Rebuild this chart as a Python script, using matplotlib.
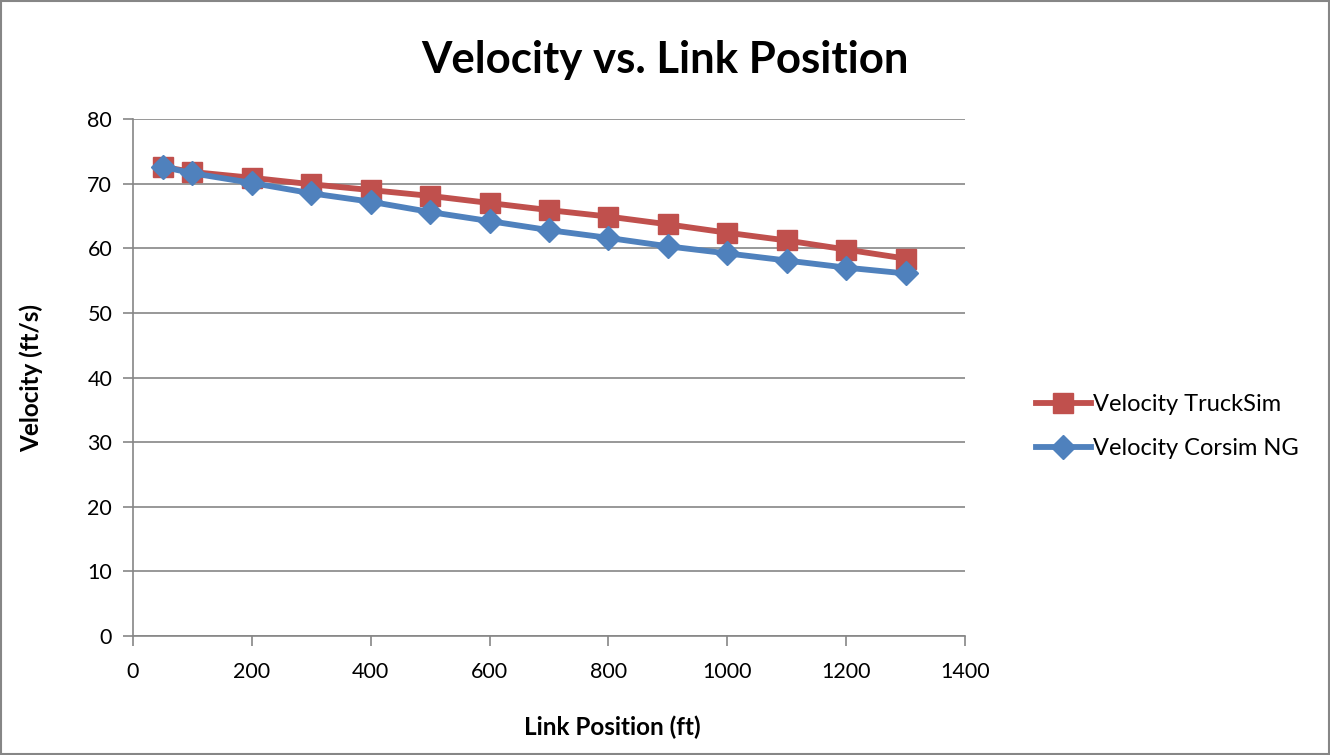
import matplotlib
matplotlib.use('Agg')
import matplotlib.pyplot as plt
from matplotlib.patches import Rectangle

plt.rcParams['font.family'] = ['Lato', 'DejaVu Sans']

# data
position = [50, 100, 200, 300, 400, 500, 600, 700, 800, 900, 1000, 1100, 1200, 1300]
v_trucksim = [72.6, 71.8, 70.9, 69.9, 69.0, 68.1, 67.0, 65.9, 64.9, 63.7, 62.4, 61.2, 59.8, 58.4]
v_corsim = [72.6, 71.6, 70.1, 68.5, 67.2, 65.6, 64.2, 62.8, 61.6, 60.3, 59.2, 58.1, 57.0, 56.1]
xticks = [0, 200, 400, 600, 800, 1000, 1200, 1400]
yticks = [0, 10, 20, 30, 40, 50, 60, 70, 80]

red = '#C0504D'
blue = '#4F81BD'
gray = '#868686'

fig = plt.figure(figsize=(13.3, 7.55), dpi=100)
ax = fig.add_axes([0.1, 0.1576, 0.6256, 0.6848])

ax.plot(position, v_trucksim, color=red, lw=4.2, marker='s', ms=14,
        label='Velocity TruckSim', zorder=3)
ax.plot(position, v_corsim, color=blue, lw=4.2, marker='D', ms=12,
        label='Velocity Corsim NG', zorder=4)

ax.set_xlim(0, 1400)
ax.set_ylim(0, 80)
ax.set_xticks(xticks)
ax.set_yticks(yticks)
ax.tick_params(labelsize=15.5, color=gray, length=7, width=1.2)
ax.tick_params(axis='x', pad=12)
ax.tick_params(axis='y', pad=8)
ax.grid(axis='y', color=gray, lw=1.2)
ax.set_axisbelow(True)
for s in ['top', 'right']:
    ax.spines[s].set_visible(False)
for s in ['left', 'bottom']:
    ax.spines[s].set_color(gray)
    ax.spines[s].set_linewidth(1.2)

fig.text(0.5, 1 - 60 / 755, 'Velocity vs. Link Position', fontsize=31.5,
         fontweight='bold', ha='center', va='center')
ax.set_xlabel('Link Position (ft)', fontsize=17.5, fontweight='bold')
ax.xaxis.set_label_coords(0.576, -0.176)
ax.xaxis.label.set_va('center')
ax.set_ylabel('Velocity (ft/s)', fontsize=17.5, fontweight='bold', labelpad=32)

ax.legend(loc='center left', bbox_to_anchor=(1.06, 0.405), frameon=False,
          fontsize=17, handlelength=2.3, handletextpad=0.1, labelspacing=1.0)

fig.patches.append(Rectangle((0.001, 0.001), 0.998, 0.998, transform=fig.transFigure,
                             fill=False, edgecolor=gray, lw=1.5))

fig.savefig('out.png', dpi=100)
